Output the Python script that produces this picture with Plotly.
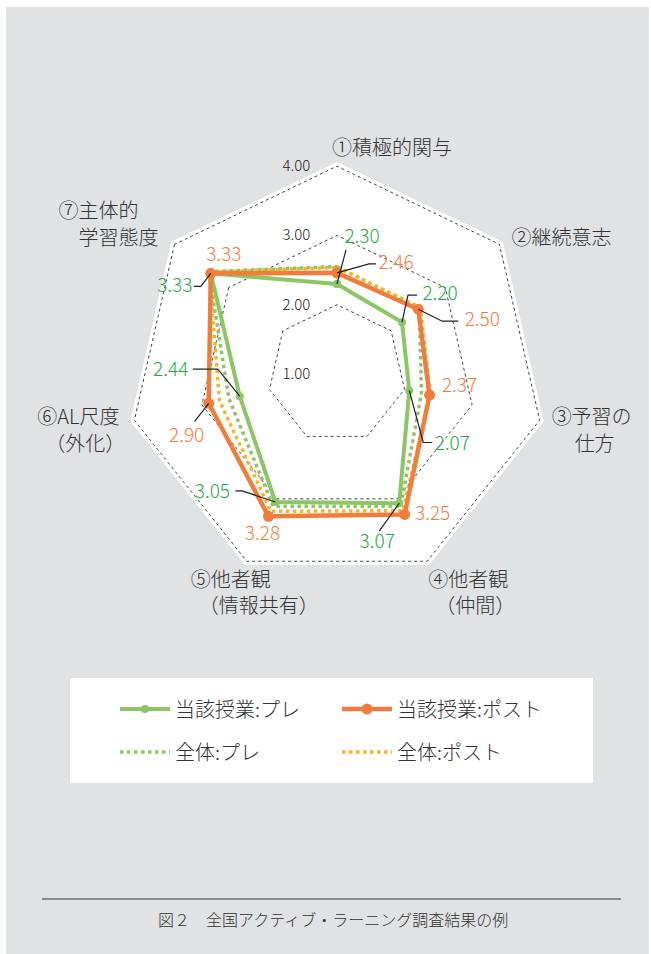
import math
import plotly.graph_objects as go

# ---------------- data ----------------
categories = ["①積極的関与", "②継続意志", "③予習の<br>仕方", "④他者観<br>（仲間）",
              "⑤他者観<br>（情報共有）", "⑥AL尺度<br>（外化）", "⑦主体的<br>学習態度"]
class_pre = [2.30, 2.20, 2.07, 3.07, 3.05, 2.44, 3.33]
class_post = [2.46, 2.50, 2.37, 3.25, 3.28, 2.90, 3.33]
all_pre = [2.55, 2.52, 2.25, 3.12, 3.12, 2.60, 3.37]
all_post = [2.54, 2.54, 2.38, 3.19, 3.20, 2.74, 3.36]
radial_ticks = [1, 2, 3, 4]
series_names = ["当該授業:プレ", "当該授業:ポスト", "全体:プレ", "全体:ポスト"]
caption = "図２　全国アクティブ・ラーニング調査結果の例"

# ---------------- styling ----------------
W, H = 651, 954
FONT = "Noto Sans CJK JP"
LIGHT = 300
GREEN = "#8cc665"
ORANGE = "#ef7e3d"
YELLOW = "#f9b52a"
GREEN_TXT = "#22a94a"
ORANGE_TXT = "#f07d3d"
BG_GRAY = "#e1e2e4"

R_MIN, R_MAX = 1, 4.06
CX, CY, R_PX = 337, 374, 212          # polar centre / radius in pixels
S = R_PX / (R_MAX - R_MIN)            # pixels per radial unit
R2_PX = min(CX, W - CX)               # larger overlay polar for annotations
R2_MAX = R_MIN + R2_PX / S

n = len(categories)
phis = [k * 360 / n for k in range(n)]

# label offsets (pixels from the data point) and leader line paths
pre_lbl = [(25, -46), (38, -27), (43, 55), (-22, 40), (-63, -9), (-69, -25), (-36, 14)]
pre_lead = [[(0, 0), (9, -34)], [(0, 0), (6, -27), (15, -27)], [(0, 0), (14, 52), (23, 52)],
            [(0, 0), (-20, 28)], [(0, 0), (-33, -11), (-40, -11)],
            [(0, 0), (-22, -27), (-47, -27)], [(0, 0), (-10, 13), (-17, 13)]]
post_lbl = [(59, -9), (64, 12), (30, -8), (28, 1), (-6, 19), (-22, 34), (13, -17)]
post_lead = [[(0, 0), (32, -9), (39, -9)], [(0, 0), (24, 12), (40, 12)], None, None, None,
             [(0, 0), (-14, 18)], None]
# category label line offsets (pixels from the outer 4.00 vertex), one per text line
cat_lbl = [[(55, -16)], [(62, -4)], [(52, -1), (55, 26)], [(41, 21), (48, 47)],
           [(-16, 21), (12, 47)], [(-56, -1), (-49, 26)], [(-76, -31), (-56, -4)]]


def off_polar(r, phi, dx, dy):
    vx = (r - R_MIN) * S * math.sin(math.radians(phi)) + dx
    vy = -(r - R_MIN) * S * math.cos(math.radians(phi)) + dy
    rr = R_MIN + math.hypot(vx, vy) / S
    ph = math.degrees(math.atan2(vx, -vy)) % 360
    return rr, ph


def closed(v):
    return list(v) + [v[0]]


fig = go.Figure()

# overall (dotted) series
fig.add_trace(go.Scatterpolar(r=closed(all_pre), theta=closed(categories), mode="lines",
                              name=series_names[2], legend="legend2", legendrank=3,
                              line=dict(color=GREEN, width=3.5, dash="dot"), hoverinfo="skip"))
fig.add_trace(go.Scatterpolar(r=closed(all_post), theta=closed(categories), mode="lines",
                              name=series_names[3], legend="legend2", legendrank=4,
                              line=dict(color=YELLOW, width=3.5, dash="dot"), hoverinfo="skip"))
# class series
fig.add_trace(go.Scatterpolar(r=closed(class_pre), theta=closed(categories), mode="lines+markers",
                              name=series_names[0], legendrank=1,
                              line=dict(color=GREEN, width=4), marker=dict(size=8, color=GREEN),
                              hoverinfo="skip"))
fig.add_trace(go.Scatterpolar(r=closed(class_post), theta=closed(categories), mode="lines+markers",
                              name=series_names[1], legendrank=2,
                              line=dict(color=ORANGE, width=4.5), marker=dict(size=11, color=ORANGE),
                              hoverinfo="skip"))

# leader lines (on an overlaid numeric polar with the same centre and scale)
for vals, leads in ((class_pre, pre_lead), (class_post, post_lead)):
    for k, path in enumerate(leads):
        if not path:
            continue
        pts = [off_polar(vals[k], phis[k], dx, dy) for dx, dy in path]
        fig.add_trace(go.Scatterpolar(r=[p[0] for p in pts], theta=[p[1] for p in pts],
                                      subplot="polar2",
                                      mode="lines", line=dict(color="#222", width=1.2),
                                      showlegend=False, hoverinfo="skip", cliponaxis=False))

# value labels
for vals, offs, col in ((class_pre, pre_lbl, GREEN_TXT), (class_post, post_lbl, ORANGE_TXT)):
    pts = [off_polar(vals[k], phis[k], dx, dy) for k, (dx, dy) in enumerate(offs)]
    fig.add_trace(go.Scatterpolar(r=[p[0] for p in pts], theta=[p[1] for p in pts],
                                  subplot="polar2",
                                  mode="text", text=[f"{v:.2f}" for v in vals],
                                  textposition="middle center",
                                  textfont=dict(family=FONT, size=19, color=col, weight=LIGHT),
                                  showlegend=False, hoverinfo="skip", cliponaxis=False))

# category labels (outside the outer ring)
cr, ct, ctext = [], [], []
for k, name in enumerate(categories):
    for line, (dx, dy) in zip(name.split("<br>"), cat_lbl[k]):
        rr, ph = off_polar(radial_ticks[-1], phis[k], dx, dy)
        cr.append(rr)
        ct.append(ph)
        ctext.append(line)
fig.add_trace(go.Scatterpolar(r=cr, theta=ct, subplot="polar2", mode="text", text=ctext,
                              textposition="middle center",
                              textfont=dict(family=FONT, size=20, color="#333", weight=LIGHT),
                              showlegend=False, hoverinfo="skip", cliponaxis=False))

dom_x = [(CX - R_PX) / W, (CX + R_PX) / W]
dom_y = [1 - (CY + R_PX) / H, 1 - (CY - R_PX) / H]
dom2_x = [(CX - R2_PX) / W, (CX + R2_PX) / W]
dom2_y = [1 - (CY + R2_PX) / H, 1 - (CY - R2_PX) / H]

fig.update_layout(
    width=W, height=H, margin=dict(l=0, r=0, t=0, b=0),
    paper_bgcolor="white",
    font=dict(family=FONT, color="#333"),
    polar=dict(
        domain=dict(x=dom_x, y=dom_y),
        bgcolor="white",
        gridshape="linear",
        radialaxis=dict(range=[R_MIN, R_MAX], tickvals=radial_ticks, tickformat=".2f",
                        angle=90, tickangle=90, side="counterclockwise",
                        showline=False, ticks="outside", ticklen=21, tickcolor="rgba(0,0,0,0)",
                        gridcolor="#444", griddash="dot", gridwidth=1.2,
                        tickfont=dict(family=FONT, size=15, color="#222", weight=LIGHT)),
        angularaxis=dict(rotation=90, direction="clockwise",
                         showgrid=False, showline=False, ticks="", showticklabels=False),
    ),
    polar2=dict(
        domain=dict(x=dom2_x, y=dom2_y),
        bgcolor="rgba(0,0,0,0)",
        radialaxis=dict(range=[R_MIN, R2_MAX], visible=False),
        angularaxis=dict(rotation=90, direction="clockwise", visible=False),
    ),
    legend=dict(orientation="h", x=115 / W, xanchor="left", y=1 - 709 / H, yanchor="middle",
                bgcolor="rgba(0,0,0,0)", entrywidth=157, itemwidth=50,
                font=dict(family=FONT, size=20, color="#333", weight=LIGHT)),
    legend2=dict(orientation="h", x=115 / W, xanchor="left", y=1 - 752 / H, yanchor="middle",
                 bgcolor="rgba(0,0,0,0)", entrywidth=157, itemwidth=50,
                 font=dict(family=FONT, size=20, color="#333", weight=LIGHT)),
    shapes=[
        dict(type="rect", xref="paper", yref="paper", x0=6 / W, x1=649 / W, y0=0, y1=1 - 7 / H,
             fillcolor=BG_GRAY, line=dict(width=0), layer="below"),
        dict(type="rect", xref="paper", yref="paper", x0=70 / W, x1=593 / W,
             y0=1 - 783 / H, y1=1 - 678 / H, fillcolor="white", line=dict(width=0), layer="below"),
        dict(type="line", xref="paper", yref="paper", x0=42 / W, x1=621 / W,
             y0=1 - 899 / H, y1=1 - 899 / H, line=dict(color="#333", width=1)),
    ],
    annotations=[dict(text=caption, xref="paper", yref="paper", x=333 / W, y=1 - 919 / H,
                      yanchor="middle", showarrow=False,
                      font=dict(family=FONT, size=16, color="#333", weight=LIGHT))],
)

fig.write_html("out.html")
